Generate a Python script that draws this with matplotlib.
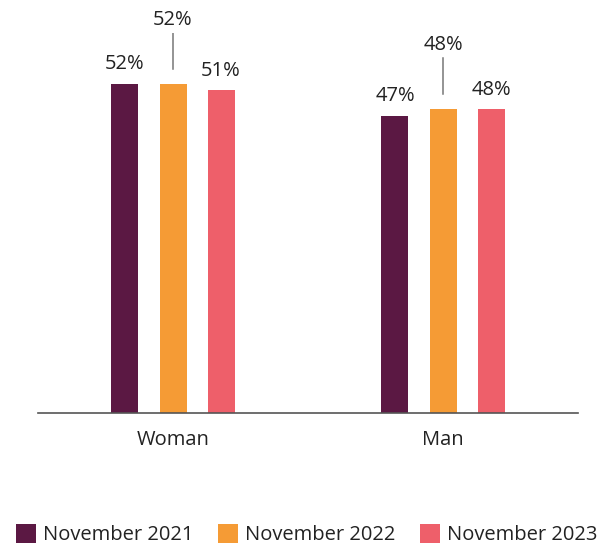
import matplotlib
matplotlib.use("Agg")
import matplotlib.pyplot as plt
from matplotlib.patches import Patch
import numpy as np

plt.rcParams['font.family'] = ['Open Sans', 'DejaVu Sans']

categories = ["Woman", "Man"]
series_names = ["November 2021", "November 2022", "November 2023"]
values = {
    "November 2021": [52, 47],
    "November 2022": [52, 48],
    "November 2023": [51, 48],
}
colors = ["#5B1843", "#F59B35", "#EE5F6A"]

FS = 14.5

fig = plt.figure(figsize=(6.04, 5.47), dpi=100)
ax = fig.add_axes([0.063, 0.245, 0.894, 0.694])

x = np.arange(len(categories))
width = 0.1
offsets = [-0.178, 0.0, 0.178]

for i, (name, off) in enumerate(zip(series_names, offsets)):
    vals = values[name]
    ax.bar(x + off, vals, width=width, color=colors[i], zorder=2)
    for xi, v in zip(x, vals):
        if i == 1:
            # middle series: label raised with a leader line
            ax.plot([xi + off, xi + off], [v + 2.4, v + 8.1],
                    color="#777777", lw=1.1, zorder=1)
            ax.text(xi + off, v + 8.6, f"{v}%", ha="center", va="bottom",
                    fontsize=FS, color="#222222")
        else:
            ax.text(xi + off, v + 1.5, f"{v}%", ha="center", va="bottom",
                    fontsize=FS, color="#222222")

ax.set_xlim(-0.5, 1.5)
ax.set_ylim(0, 60)
for s in ["top", "right", "left"]:
    ax.spines[s].set_visible(False)
ax.spines["bottom"].set_color("#555555")
ax.spines["bottom"].set_linewidth(1.2)
ax.set_yticks([])
ax.set_xticks(x)
ax.set_xticklabels(categories, fontsize=FS, color="#222222")
ax.tick_params(axis="x", length=0, pad=12)

handles = [Patch(facecolor=c, edgecolor="none") for c in colors]
fig.legend(handles, series_names, loc="lower center", bbox_to_anchor=(0.508, -0.03),
           ncol=3, frameon=False, fontsize=FS, handlelength=1.0, handleheight=1.05,
           handletextpad=0.35, columnspacing=1.2, labelcolor="#222222")

fig.savefig("out.png", dpi=100)
